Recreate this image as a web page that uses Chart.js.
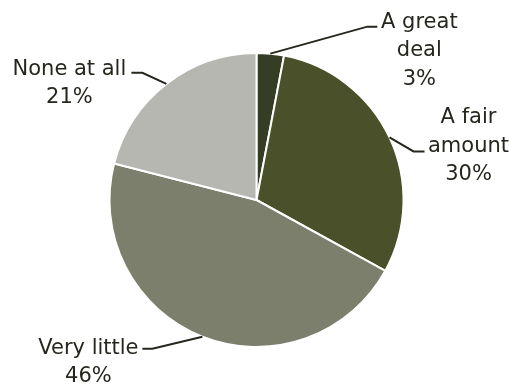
<!DOCTYPE html>
<html>
<head>
<meta charset="utf-8">
<script src="https://cdn.jsdelivr.net/npm/chart.js@4/dist/chart.umd.min.js"></script>
<style>
  html, body { margin: 0; padding: 0; background: #fff; }
  #wrap { width: 509px; height: 388px; }
</style>
</head>
<body>
<div id="wrap"><canvas id="pieChart"></canvas></div>
<script>
// data
const categories = ["A great deal", "A fair amount", "Very little", "None at all"];
const shares = [3, 30, 46, 21];
// how each label is broken over lines
const labelLines = [["A great", "deal"], ["A fair", "amount"], ["Very little"], ["None at all"]];

const sliceColors = ["#353e24", "#4a512a", "#7b7f6c", "#b5b7b0"];
const inkColor = "#26261e";

// label placement, relative to the slice's outer mid point
// elbow: bend of the leader, tail: length of the flat part, text: centre x / first baseline from tail end
const labelLayout = [
  { elbow: [97, -27], tail: 10, text: [42, 1] },
  { elbow: [24, 14], tail: 11, text: [44, -28] },
  { elbow: [-50, 12], tail: -10, text: [-54, 5] },
  { elbow: [-24, -11], tail: -11, text: [-62, 2] },
];

const leaderLabels = {
  id: "leaderLabels",
  afterDatasetsDraw(chart) {
    const ctx = chart.ctx;
    const arcs = chart.getDatasetMeta(0).data;
    ctx.save();
    ctx.strokeStyle = inkColor;
    ctx.fillStyle = inkColor;
    ctx.lineWidth = 2;
    ctx.font = "21px 'DejaVu Sans'";
    ctx.textAlign = "center";
    ctx.textBaseline = "alphabetic";
    arcs.forEach((arc, i) => {
      const { x, y, startAngle, endAngle, outerRadius } = arc.getProps(["x", "y", "startAngle", "endAngle", "outerRadius"], true);
      const mid = (startAngle + endAngle) / 2;
      const ex = x + Math.cos(mid) * outerRadius;
      const ey = y + Math.sin(mid) * outerRadius;
      const lay = labelLayout[i];
      const bx = ex + lay.elbow[0];
      const by = ey + lay.elbow[1];
      const tx = bx + lay.tail;
      ctx.beginPath();
      ctx.moveTo(ex, ey);
      ctx.lineTo(bx, by);
      ctx.lineTo(tx, by);
      ctx.stroke();
      const lines = labelLines[i].concat([shares[i] + "%"]);
      const cx = tx + lay.text[0];
      let ly = by + lay.text[1];
      lines.forEach(t => {
        ctx.fillText(t, cx, ly);
        ly += 28.5;
      });
    });
    ctx.restore();
  }
};

new Chart(document.getElementById("pieChart"), {
  type: "pie",
  data: {
    labels: categories,
    datasets: [{
      data: shares,
      backgroundColor: sliceColors,
      borderColor: "#ffffff",
      borderWidth: 2,
      hoverOffset: 0,
      offset: 0,
    }],
  },
  options: {
    responsive: true,
    maintainAspectRatio: false,
    animation: false,
    layout: { padding: { top: 52, bottom: 40, left: 4, right: 0 } },
    plugins: {
      legend: { display: false },
      tooltip: { enabled: false },
    },
  },
  plugins: [leaderLabels],
});
</script>
</body>
</html>
